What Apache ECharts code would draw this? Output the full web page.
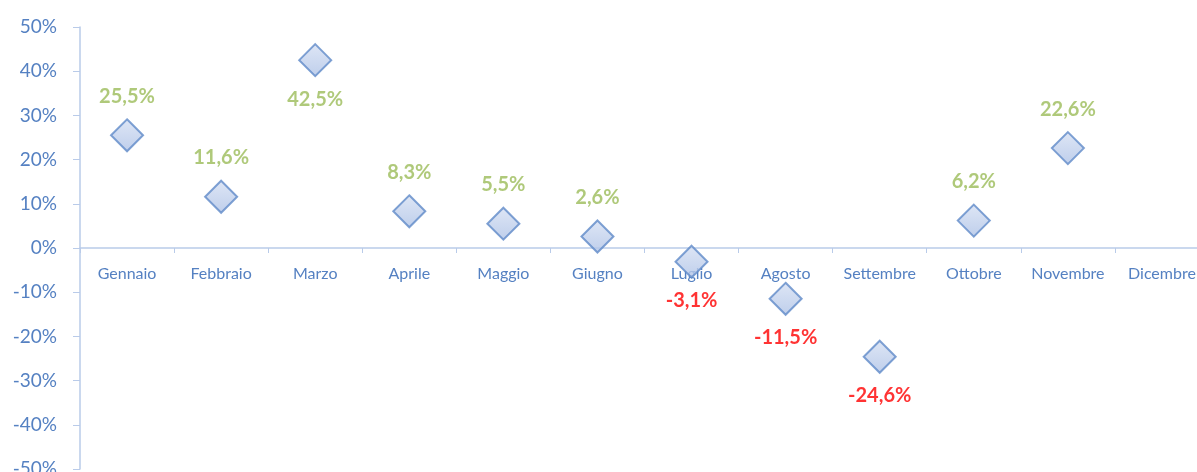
<!DOCTYPE html>
<html>
<head>
<meta charset="utf-8">
<script src="https://cdn.jsdelivr.net/npm/echarts@6/dist/echarts.min.js"></script>
<style>
    html, body { margin: 0; padding: 0; background: #fff; }
    #chart { width: 1197px; height: 472px; }
</style>
</head>
<body>
<div id="chart"></div>
<script>
// mesi e variazioni percentuali
const mesi = ['Gennaio', 'Febbraio', 'Marzo', 'Aprile', 'Maggio', 'Giugno', 'Luglio', 'Agosto', 'Settembre', 'Ottobre', 'Novembre', 'Dicembre']
const variazioni = [25.5, 11.6, 42.5, 8.3, 5.5, 2.6, -3.1, -11.5, -24.6, 6.2, 22.6, null]
const yMin = -50
const yMax = 50
const yStep = 10

const axisBlue = '#5581c2'
const gridTop = 27
const gridBottom = 3
const gridHeight = 472 - gridTop - gridBottom

const seriesData = variazioni.map(v => {
    if (v === null) return null
    const pos = v >= 0
    // vicino al bordo alto l'etichetta va sotto il punto
    const sotto = !pos || v > 40
    return {
        value: v,
        label: {
            position: sotto ? 'bottom' : 'top',
            color: pos ? '#9bbb59' : '#ff0000'
        }
    }
})

const chart = echarts.init(document.getElementById('chart'))
chart.setOption({
    animation: false,
    grid: {
        left: 80,
        right: -12,
        top: gridTop,
        bottom: gridBottom,
        outerBoundsMode: 'none'
    },
    xAxis: {
        type: 'category',
        data: mesi,
        // asse spostato sullo zero
        offset: -gridHeight * (0 - yMin) / (yMax - yMin),
        axisLine: {
            onZero: false,
            lineStyle: { color: '#b9cbe9', width: 1.5 }
        },
        axisTick: {
            show: true,
            length: 5,
            lineStyle: { color: '#b9cbe9' }
        },
        axisLabel: {
            color: axisBlue,
            fontFamily: 'Lato',
            fontSize: 16,
            margin: 18,
            interval: 0
        },
        splitLine: { show: false }
    },
    yAxis: {
        type: 'value',
        min: yMin,
        max: yMax,
        interval: yStep,
        axisLine: {
            show: true,
            lineStyle: { color: '#b9cbe9', width: 1.5 }
        },
        axisTick: {
            show: true,
            length: 7,
            lineStyle: { color: '#b9cbe9' }
        },
        axisLabel: {
            color: axisBlue,
            fontFamily: 'Lato',
            fontSize: 19,
            margin: 23,
            formatter: v => v + '%'
        },
        splitLine: { show: false }
    },
    series: [
        {
            type: 'scatter',
            symbol: 'diamond',
            symbolSize: [32, 32],
            itemStyle: {
                color: new echarts.graphic.LinearGradient(0, 0, 0, 1, [
                    { offset: 0, color: '#d6e0f3' },
                    { offset: 1, color: '#aec2e6' }
                ]),
                borderColor: '#5f8ac8',
                borderWidth: 2
            },
            label: {
                show: true,
                distance: 12,
                fontFamily: 'Lato',
                fontSize: 20,
                fontWeight: 'bold',
                formatter: p => p.value.toFixed(1).replace('.', ',') + '%'
            },
            data: seriesData
        }
    ]
})
</script>
</body>
</html>
